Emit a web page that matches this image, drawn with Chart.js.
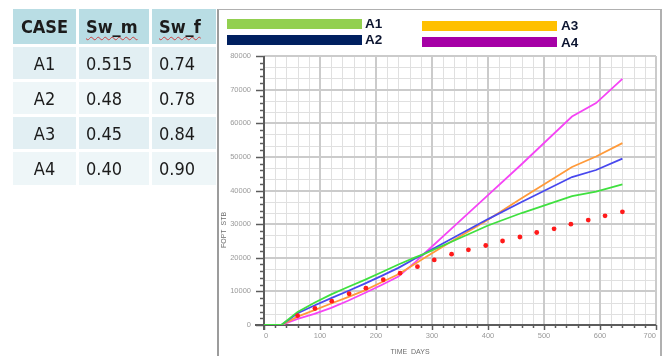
<!DOCTYPE html>
<html lang="en">
<head>
  <meta charset="UTF-8">
  <title>FOPT cases</title>
  <script src="https://cdn.jsdelivr.net/npm/chart.js@4"></script>
  <style>
    html, body { margin: 0; padding: 0; background: #fff; }
    #wrap { position: relative; width: 667px; height: 356px; overflow: hidden; }
    #c { position: absolute; left: 0; top: 0; }
    /* case table on the left */
    #tbl {
      position: absolute; left: 13px; top: 9px;
      display: grid;
      grid-template-columns: 63px 70px 64px;
      grid-template-rows: 35px 32px 32px 32px 33px;
      column-gap: 3px; row-gap: 3px;
      font-family: "DejaVu Sans Condensed", "DejaVu Sans", sans-serif;
      font-stretch: condensed;
      font-size: 18px; color: #1b1b1b;
    }
    #tbl div { display: flex; align-items: center; padding-left: 7px; }
    #tbl .hd { background: #b9dde4; font-weight: bold; }
    #tbl .c1 { justify-content: center; padding-left: 0; }
    #tbl .odd { background: #e2eff3; }
    #tbl .even { background: #eef6f8; }
    #tbl .sq { text-decoration: underline wavy #d04040; text-decoration-thickness: 1px; text-underline-offset: 3px; }
    /* chart frame + legend */
    #frame { position: absolute; left: 217px; top: 9px; width: 441px; height: 360px;
             border-left: 2px solid #9c9c9c; border-top: 1px solid #b0b0b0; border-right: 2px solid #b0b0b0; }
    .bar { position: absolute; width: 135px; height: 10px; }
    .lab { position: absolute; font: bold 13.5px "Liberation Sans", Arial, sans-serif; color: #0c1530; }
  </style>
</head>
<body>
<div id="wrap">
  <canvas id="c" width="667" height="356"></canvas>
  <div id="frame"></div>

  <div class="bar" style="left:227px; top:19px; background:#92d050"></div>
  <div class="lab" style="left:365px; top:16px">A1</div>
  <div class="bar" style="left:227px; top:35px; background:#002060"></div>
  <div class="lab" style="left:365px; top:32px">A2</div>
  <div class="bar" style="left:422px; top:21px; background:#ffc000"></div>
  <div class="lab" style="left:561px; top:18px">A3</div>
  <div class="bar" style="left:422px; top:37px; background:#a600a6"></div>
  <div class="lab" style="left:561px; top:35px">A4</div>

  <div id="tbl"></div>
</div>

<script>
  // table values
  const caseNames = ['A1', 'A2', 'A3', 'A4'];
  const swM = ['0.515', '0.48', '0.45', '0.40'];
  const swF = ['0.74', '0.78', '0.84', '0.90'];

  // simulated FOPT per case (days, STB)
  const simDays = [0, 31, 60, 90, 120, 150, 180, 210, 240, 270, 284, 330, 400, 460, 550, 593, 640];
  const foptA1 = [0, 0, 3900, 6600, 9100, 11300, 13400, 15700, 18000, 20100, 21000, 24400, 29600, 33300, 38300, 39700, 41800];
  const foptA2 = [0, 0, 3500, 5800, 8000, 10100, 12300, 14600, 17000, 19800, 21000, 25200, 31500, 36600, 44000, 46100, 49500];
  const foptA3 = [0, 0, 2500, 4400, 6400, 8300, 10300, 12700, 15100, 18200, 19700, 24400, 31300, 37700, 47000, 50100, 54100];
  const foptA4 = [0, 0, 1800, 3300, 5100, 7200, 9500, 11900, 14400, 18700, 20900, 27900, 38600, 47800, 62000, 66000, 73200];

  // observed (history) points
  const obsDays = [60, 91, 121, 152, 182, 213, 243, 274, 304, 335, 365, 396, 426, 457, 487, 518, 548, 579, 609, 640];
  const obsFopt = [2760, 4900, 7100, 9300, 10950, 13450, 15400, 17350, 19350, 21050, 22350, 23650, 24980, 26170, 27510, 28610, 30000, 31190, 32470, 33660];

  // axis ranges
  const xTicks = [0, 100, 200, 300, 400, 500, 600, 700];
  const yTicks = [0, 10000, 20000, 30000, 40000, 50000, 60000, 70000, 80000];

  // build the table
  const tbl = document.getElementById('tbl');
  function cell(txt, cls) {
    const d = document.createElement('div');
    d.className = cls;
    d.innerHTML = txt;
    tbl.appendChild(d);
  }
  cell('CASE', 'hd c1');
  cell('<span class="sq">Sw_m</span>', 'hd');
  cell('<span class="sq">Sw_f</span>', 'hd');
  caseNames.forEach((n, i) => {
    const rc = i % 2 === 0 ? 'odd' : 'even';
    cell(n, rc + ' c1');
    cell(swM[i], rc);
    cell(swF[i], rc);
  });

  const pts = (xs, ys) => xs.map((d, i) => ({ x: d, y: ys[i] }));

  // Eclipse-style grid, axes and tick marks
  const eclGrid = {
    id: 'eclGrid',
    beforeDatasetsDraw(chart) {
      const { ctx, chartArea: a, scales: { x, y } } = chart;
      ctx.save();
      // minor grid: 20 days / one third of 10000
      ctx.lineWidth = 1;
      ctx.strokeStyle = '#e0e0e0';
      for (let d = 20; d < 700; d += 20) {
        if (d % 100 === 0) continue;
        const px = Math.round(x.getPixelForValue(d)) + 0.5;
        ctx.beginPath(); ctx.moveTo(px, a.top); ctx.lineTo(px, a.bottom); ctx.stroke();
      }
      for (let k = 1; k < 24; k++) {
        if (k % 3 === 0) continue;
        const py = Math.round(y.getPixelForValue(k * 10000 / 3)) + 0.5;
        ctx.beginPath(); ctx.moveTo(a.left, py); ctx.lineTo(a.right, py); ctx.stroke();
      }
      // major grid
      ctx.lineWidth = 2;
      ctx.strokeStyle = '#cbcbcb';
      xTicks.forEach(d => {
        const px = Math.round(x.getPixelForValue(d));
        ctx.beginPath(); ctx.moveTo(px, a.top); ctx.lineTo(px, a.bottom); ctx.stroke();
      });
      yTicks.forEach(v => {
        const py = Math.round(y.getPixelForValue(v));
        ctx.beginPath(); ctx.moveTo(a.left, py); ctx.lineTo(a.right, py); ctx.stroke();
      });
      // axes
      ctx.strokeStyle = '#5c5c5c';
      ctx.lineWidth = 2;
      ctx.beginPath();
      ctx.moveTo(a.left, a.top); ctx.lineTo(a.left, a.bottom + 5);
      ctx.moveTo(a.left - 9, a.bottom); ctx.lineTo(a.right, a.bottom);
      ctx.stroke();
      // tick marks
      ctx.lineWidth = 1.5;
      for (let v = 0; v <= 80000; v += 2000) {
        const py = Math.round(y.getPixelForValue(v)) + 0.5;
        const len = v % 10000 === 0 ? 8 : 4;
        ctx.beginPath(); ctx.moveTo(a.left - len, py); ctx.lineTo(a.left, py); ctx.stroke();
      }
      for (let d = 0; d <= 700; d += 20) {
        const px = Math.round(x.getPixelForValue(d)) + 0.5;
        const len = d % 100 === 0 ? 5 : 3;
        ctx.beginPath(); ctx.moveTo(px, a.bottom); ctx.lineTo(px, a.bottom + len); ctx.stroke();
      }
      ctx.restore();
    },
    afterDraw(chart) {
      const { ctx } = chart;
      ctx.save();
      ctx.fillStyle = '#6e6e6e';
      ctx.font = '7px "Liberation Sans", Arial, sans-serif';
      ctx.textAlign = 'center';
      ctx.textBaseline = 'middle';
      ctx.fillText('TIME  DAYS', 410, 352);
      ctx.translate(224, 230);
      ctx.rotate(-Math.PI / 2);
      ctx.fillText('FOPT  STB', 0, 0);
      ctx.restore();
    }
  };

  const lineDs = (label, data, color) => ({
    label: label,
    data: pts(simDays, data),
    borderColor: color,
    backgroundColor: color,
    borderWidth: 1.8,
    pointRadius: 0,
    tension: 0,
    fill: false
  });

  new Chart(document.getElementById('c'), {
    type: 'line',
    data: {
      datasets: [
        {
          label: 'Observed',
          data: pts(obsDays, obsFopt),
          showLine: false,
          pointRadius: 2.4,
          pointBorderWidth: 0,
          pointBackgroundColor: '#ff1a1a',
          borderColor: '#ff1a1a'
        },
        lineDs('A1', foptA1, '#3fe03f'),
        lineDs('A2', foptA2, '#4848ee'),
        lineDs('A3', foptA3, '#ff9a3a'),
        lineDs('A4', foptA4, '#f544f5')
      ]
    },
    options: {
      responsive: false,
      animation: false,
      devicePixelRatio: 1,
      layout: { padding: { left: 220, right: 11, top: 56, bottom: 0 } },
      plugins: { legend: { display: false }, tooltip: { enabled: false } },
      scales: {
        x: {
          type: 'linear', min: 0, max: 700,
          grid: { display: false, drawTicks: false, tickLength: 0 },
          border: { display: false },
          ticks: { stepSize: 100, padding: 6, color: '#9a9a9a', maxRotation: 0, autoSkip: false,
                   align: 'inner', callback: v => String(v),
                   font: { family: 'Liberation Sans', size: 7.5 } },
          afterFit: s => { s.height = 31; }
        },
        y: {
          type: 'linear', min: 0, max: 80000,
          grid: { display: false, drawTicks: false, tickLength: 0 },
          border: { display: false },
          ticks: { stepSize: 10000, padding: 13, color: '#9a9a9a', autoSkip: false,
                   callback: v => String(v),
                   font: { family: 'Liberation Sans', size: 7.5 } },
          afterFit: s => { s.width = 44; }
        }
      }
    },
    plugins: [eclGrid]
  });
</script>
</body>
</html>
